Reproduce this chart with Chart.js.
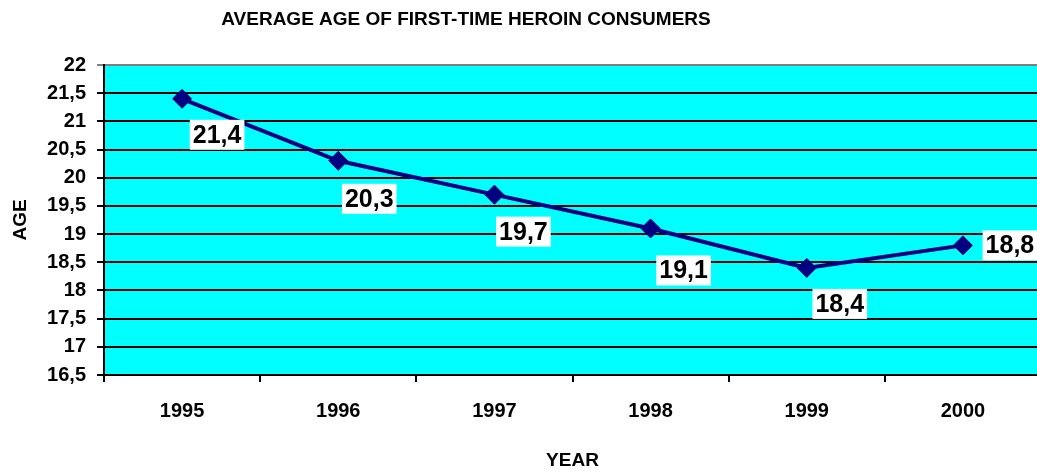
<!DOCTYPE html>
<html>
<head>
<meta charset="utf-8">
<script src="https://cdn.jsdelivr.net/npm/chart.js@4/dist/chart.umd.min.js"></script>
<style>
    html, body { margin: 0; padding: 0; background: #fff; overflow: hidden; }
    #wrap { width: 1060px; height: 472px; }
</style>
</head>
<body>
<div id="wrap"><canvas id="ageChart" width="1060" height="472"></canvas></div>
<script>
// Datos del gráfico
const titulo = "AVERAGE AGE OF FIRST-TIME HEROIN CONSUMERS";
const years = ["1995", "1996", "1997", "1998", "1999", "2000"];
const avgAge = [21.4, 20.3, 19.7, 19.1, 18.4, 18.8];

// Desplazamiento de cada etiqueta respecto a su punto (estilo)
const labelOffsets = [[35, 36], [31, 38], [29, 37], [33, 42], [33, 36], [47, 0]];

const fmt = v => String(v).replace(".", ",");
const FONT = "'Liberation Sans', Arial, sans-serif";

// Fondo cian del área de trazado
const plotBackground = {
    id: "plotBackground",
    beforeDraw(chart) {
        const { ctx, chartArea: a } = chart;
        ctx.save();
        ctx.fillStyle = "#00FFFF";
        ctx.fillRect(a.left, a.top, a.right - a.left, a.bottom - a.top);
        ctx.restore();
    }
};

// Título desplazado a la izquierda, como en el original
const leftTitle = {
    id: "leftTitle",
    afterDraw(chart) {
        const ctx = chart.ctx;
        ctx.save();
        ctx.font = "bold 19px " + FONT;
        ctx.fillStyle = "#000";
        ctx.textAlign = "center";
        ctx.textBaseline = "middle";
        ctx.fillText(titulo, 466, 20);
        ctx.restore();
    }
};

// Etiquetas de valor con fondo blanco
const valueLabels = {
    id: "valueLabels",
    afterDatasetsDraw(chart) {
        const ctx = chart.ctx;
        const meta = chart.getDatasetMeta(0);
        ctx.save();
        ctx.font = "bold 25px " + FONT;
        ctx.textAlign = "center";
        ctx.textBaseline = "middle";
        meta.data.forEach((pt, i) => {
            const txt = fmt(avgAge[i]);
            const x = pt.x + labelOffsets[i][0];
            const y = pt.y + labelOffsets[i][1];
            const w = ctx.measureText(txt).width + 6;
            const h = 30;
            ctx.fillStyle = "#fff";
            ctx.fillRect(x - w / 2, y - h / 2, w, h);
            ctx.fillStyle = "#000";
            ctx.fillText(txt, x, y + 1);
        });
        ctx.restore();
    }
};

const ctx = document.getElementById("ageChart").getContext("2d");

new Chart(ctx, {
    type: "line",
    data: {
        labels: years,
        datasets: [{
            data: avgAge,
            borderColor: "#000080",
            borderWidth: 4,
            tension: 0,
            pointStyle: "rectRot",
            pointRadius: 9.5,
            pointBackgroundColor: "#000080",
            pointBorderColor: "#000080",
            pointBorderWidth: 1
        }]
    },
    options: {
        responsive: false,
        animation: false,
        layout: { padding: { top: 65, right: 19, left: 0, bottom: 0 } },
        plugins: {
            legend: { display: false },
            title: { display: false },
            tooltip: { enabled: false }
        },
        scales: {
            x: {
                offset: true,
                grid: {
                    offset: true,
                    drawOnChartArea: false,
                    drawTicks: true,
                    tickLength: 7,
                    color: "#000",
                    lineWidth: 2
                },
                border: { color: "#000", width: 2 },
                ticks: {
                    color: "#000",
                    font: { family: FONT, size: 20, weight: "bold" },
                    padding: 17,
                    maxRotation: 0
                },
                title: {
                    display: true,
                    text: "YEAR",
                    color: "#000",
                    font: { family: FONT, size: 19, weight: "bold" },
                    padding: { top: 0, bottom: 0 }
                },
                afterFit(scale) { scale.height = 97; }
            },
            y: {
                min: 16.5,
                max: 22,
                grid: {
                    color: c => c.tick && c.tick.value === 22 ? "#808080" : "#000",
                    lineWidth: 2,
                    drawTicks: true,
                    tickLength: 7
                },
                border: { color: "#000", width: 2 },
                ticks: {
                    stepSize: 0.5,
                    color: "#000",
                    padding: 11,
                    font: { family: FONT, size: 20, weight: "bold" },
                    callback: v => fmt(v)
                },
                title: {
                    display: true,
                    text: "AGE",
                    color: "#000",
                    font: { family: FONT, size: 19, weight: "bold" },
                    padding: { top: 9, bottom: 0 }
                },
                afterFit(scale) { scale.width = 104; }
            }
        }
    },
    plugins: [plotBackground, leftTitle, valueLabels]
});
</script>
</body>
</html>
